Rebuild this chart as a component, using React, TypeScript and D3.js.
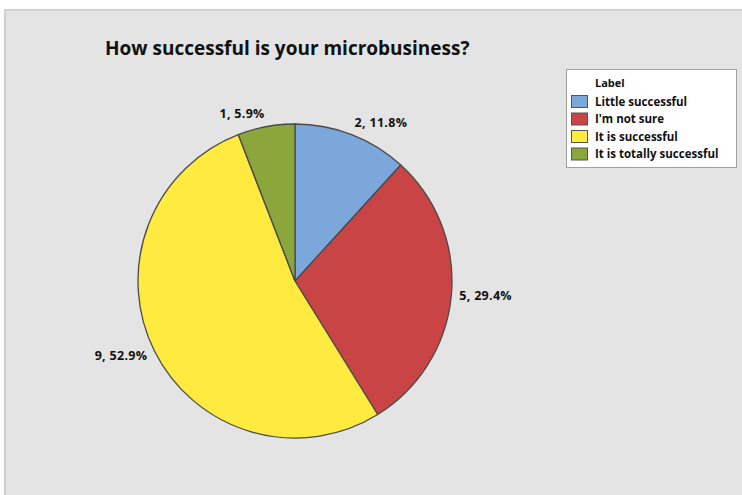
import * as React from "react";
import * as d3 from "d3";

// pie data, clockwise from 12 o'clock
const categories = ["Little successful", "I'm not sure", "It is successful", "It is totally successful"];
const counts = [2, 5, 9, 1];
const colors = ["#7ba7db", "#c94545", "#ffeb40", "#8ba63a"];
const legendTitle = "Label";
const title = "How successful is your microbusiness?";

interface Slice {
  name: string;
  count: number;
  color: string;
}

const slices: Slice[] = categories.map((name, i) => ({
  name: name,
  count: counts[i],
  color: colors[i],
}));

function pieChart(svgRef: React.RefObject<SVGSVGElement>) {
  const svg = d3.select(svgRef.current);
  svg.selectAll("*").remove();

  const width = 742;
  const height = 495;
  const cx = 295;
  const cy = 281;
  const radius = 157;
  const font = '"Open Sans", "Noto Sans", sans-serif';
  const total = d3.sum(counts);

  svg.attr("width", width).attr("height", height).style("display", "block");

  /* panel */
  svg
    .append("rect")
    .attr("x", 5)
    .attr("y", 10)
    .attr("width", width)
    .attr("height", height)
    .style("fill", "#e4e4e4")
    .style("stroke", "#cfcfcf")
    .style("stroke-width", 2);

  svg
    .append("text")
    .attr("x", 105)
    .attr("y", 55)
    .attr("font-family", font)
    .attr("font-weight", 700)
    .attr("font-size", 19)
    .style("fill", "#111")
    .text(title);

  /* pie */
  const pie = d3
    .pie<Slice>()
    .value((d) => d.count)
    .sort(null);

  const arc = d3.arc<d3.PieArcDatum<Slice>>().innerRadius(0).outerRadius(radius);

  const g = svg.append("g").attr("transform", `translate(${cx}, ${cy})`);
  const arcs = pie(slices);

  g.selectAll("path")
    .data(arcs)
    .enter()
    .append("path")
    .attr("d", arc)
    .style("fill", (d) => d.data.color)
    .style("stroke", "#4a4a4a")
    .style("stroke-width", 1.3);

  // labels sit just outside the rim, at each slice's mid angle
  g.selectAll("text")
    .data(arcs)
    .enter()
    .append("text")
    .attr("x", (d) => Math.sin((d.startAngle + d.endAngle) / 2) * (radius + 8))
    .attr("y", (d) => {
      const a = (d.startAngle + d.endAngle) / 2;
      return -Math.cos(a) * (radius + 8) - 4 * Math.cos(a) - 1;
    })
    .attr("dy", "0.35em")
    .attr("text-anchor", (d) => (Math.sin((d.startAngle + d.endAngle) / 2) >= 0 ? "start" : "end"))
    .attr("font-family", font)
    .attr("font-weight", 700)
    .attr("font-size", 12.5)
    .attr("letter-spacing", 0.3)
    .style("fill", "#111")
    .text((d) => `${d.data.count}, ${((d.data.count / total) * 100).toFixed(1)}%`);

  /* legend */
  const legend = svg.append("g").attr("transform", "translate(566, 69)");
  legend
    .append("rect")
    .attr("x", 0.5)
    .attr("y", 0.5)
    .attr("width", 170)
    .attr("height", 98)
    .style("fill", "#fff")
    .style("stroke", "#a0a0a0");

  legend
    .append("text")
    .attr("x", 29)
    .attr("y", 18)
    .attr("font-family", font)
    .attr("font-weight", 700)
    .attr("font-size", 11)
    .style("fill", "#111")
    .text(legendTitle);

  const rows = legend
    .selectAll("g.row")
    .data(slices)
    .enter()
    .append("g")
    .attr("class", "row")
    .attr("transform", (_d, i) => `translate(0, ${26 + i * 17.5})`);

  rows
    .append("rect")
    .attr("x", 5.5)
    .attr("y", 0.5)
    .attr("width", 16)
    .attr("height", 12)
    .style("fill", (d) => d.color)
    .style("stroke", "#555");

  rows
    .append("text")
    .attr("x", 29)
    .attr("y", 6.5)
    .attr("dy", "0.35em")
    .attr("font-family", font)
    .attr("font-weight", 700)
    .attr("font-size", 11.5)
    .style("fill", "#111")
    .text((d) => d.name);
}

const PieChart: React.FunctionComponent = () => {
  const svg = React.useRef<SVGSVGElement>(null);
  React.useEffect(() => {
    pieChart(svg);
  }, [svg]);

  return <svg ref={svg} />;
};

export default function App() {
  return (
    <div style={{ position: "absolute", left: 0, top: 0 }}>
      <PieChart />
    </div>
  );
}
